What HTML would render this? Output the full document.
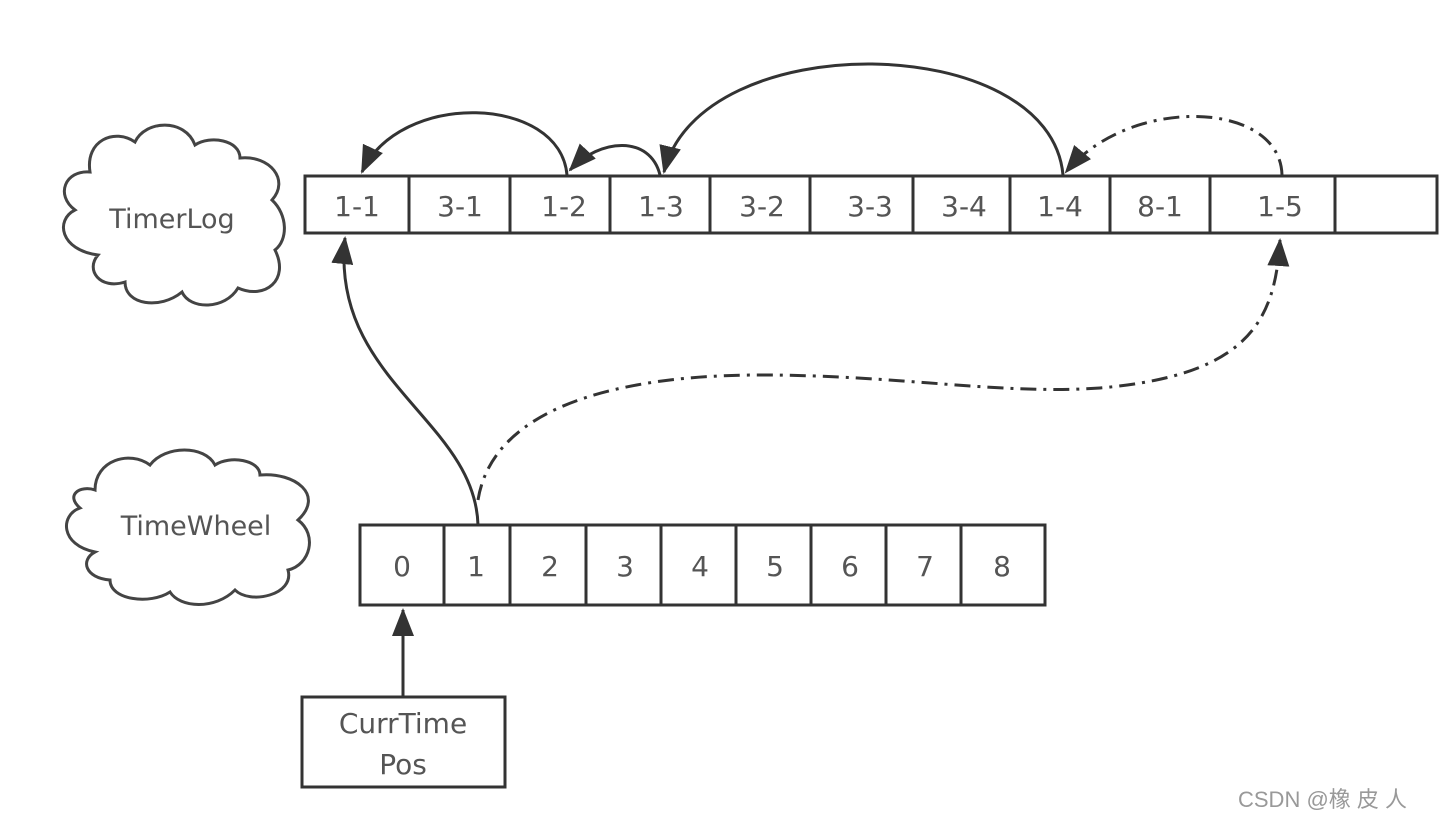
<!DOCTYPE html>
<html><head><meta charset="utf-8"><style>
html,body{margin:0;padding:0;background:#fff;}
svg{display:block;}
text{font-family:"DejaVu Sans","Liberation Sans",sans-serif;fill:#555;}
</style></head><body>
<svg width="1452" height="826" viewBox="0 0 1452 826" xmlns="http://www.w3.org/2000/svg">
<defs>
<marker id="ah" markerWidth="10" markerHeight="10" refX="9" refY="5" orient="auto" markerUnits="userSpaceOnUse" viewBox="0 0 10 10">
<path d="M0,0 L10,5 L0,10 Z" fill="#333"/>
</marker>
<marker id="ab" markerWidth="28" markerHeight="22" refX="26" refY="11" orient="auto" markerUnits="userSpaceOnUse" viewBox="0 0 28 22">
<path d="M0,0 L28,11 L0,22 Z" fill="#333"/>
</marker>
</defs>
<g fill="none" stroke="#444" stroke-width="3">
<!-- clouds -->
<path d="M90 172 C 85 140, 115 128, 135 142 C 145 120, 185 118, 195 145 C 210 135, 240 140, 240 158 C 270 155, 290 180, 272 200 C 288 215, 288 240, 275 250 C 290 280, 265 300, 238 288 C 225 310, 190 310, 182 292 C 160 310, 125 305, 125 282 C 100 290, 85 270, 98 255 C 60 250, 55 220, 75 210 C 55 195, 65 170, 90 172 Z"/>
<path d="M95 490 C 95 460, 130 450, 150 465 C 165 445, 205 445, 215 465 C 230 455, 260 460, 260 475 C 295 472, 325 495, 298 520 C 318 535, 310 565, 288 570 C 295 595, 250 605, 235 590 C 215 610, 180 608, 170 592 C 150 605, 110 600, 110 580 C 85 578, 80 560, 95 552 C 60 545, 60 515, 80 508 C 65 495, 80 485, 95 490 Z"/>
</g>
<text x="172" y="228" font-size="27" text-anchor="middle">TimerLog</text>
<text x="196" y="535" font-size="27" text-anchor="middle">TimeWheel</text>

<!-- TimerLog row -->
<g fill="#fff" stroke="#333" stroke-width="3">
<rect x="305" y="176" width="1132" height="57"/>
</g>
<g stroke="#333" stroke-width="3">
<line x1="409" y1="176" x2="409" y2="233"/><line x1="510" y1="176" x2="510" y2="233"/>
<line x1="610" y1="176" x2="610" y2="233"/><line x1="710" y1="176" x2="710" y2="233"/>
<line x1="810" y1="176" x2="810" y2="233"/><line x1="913" y1="176" x2="913" y2="233"/>
<line x1="1010" y1="176" x2="1010" y2="233"/><line x1="1110" y1="176" x2="1110" y2="233"/>
<line x1="1210" y1="176" x2="1210" y2="233"/><line x1="1335" y1="176" x2="1335" y2="233"/>
</g>
<g font-size="28" text-anchor="middle">
<text x="357" y="216">1-1</text><text x="460" y="216">3-1</text><text x="564" y="216">1-2</text>
<text x="661" y="216">1-3</text><text x="762" y="216">3-2</text><text x="870" y="216">3-3</text>
<text x="964" y="216">3-4</text><text x="1060" y="216">1-4</text><text x="1160" y="216">8-1</text>
<text x="1280" y="216">1-5</text>
</g>

<!-- TimeWheel row -->
<rect x="360" y="525" width="685" height="80" fill="#fff" stroke="#333" stroke-width="3"/>
<g stroke="#333" stroke-width="3">
<line x1="444" y1="525" x2="444" y2="605"/><line x1="510" y1="525" x2="510" y2="605"/>
<line x1="586" y1="525" x2="586" y2="605"/><line x1="661" y1="525" x2="661" y2="605"/>
<line x1="736" y1="525" x2="736" y2="605"/><line x1="811" y1="525" x2="811" y2="605"/>
<line x1="886" y1="525" x2="886" y2="605"/><line x1="961" y1="525" x2="961" y2="605"/>
</g>
<g font-size="28" text-anchor="middle">
<text x="402" y="576">0</text><text x="476" y="576">1</text><text x="550" y="576">2</text>
<text x="625" y="576">3</text><text x="700" y="576">4</text><text x="775" y="576">5</text>
<text x="850" y="576">6</text><text x="925" y="576">7</text><text x="1002" y="576">8</text>
</g>

<!-- CurrTime box -->
<rect x="302" y="697" width="203" height="90" fill="#fff" stroke="#333" stroke-width="3"/>
<text x="403" y="733" font-size="28" text-anchor="middle">CurrTime</text>
<text x="403" y="774" font-size="28" text-anchor="middle">Pos</text>

<!-- arrows -->
<g fill="none" stroke="#333" stroke-width="3">
<path d="M403 697 L403 610" marker-end="url(#ab)"/>
<path d="M567 175 C 560 95, 400 90, 362 172" marker-end="url(#ab)"/>
<path d="M660 175 C 650 135, 600 138, 570 170" marker-end="url(#ab)"/>
<path d="M1063 175 C 1050 30, 700 25, 664 172" marker-end="url(#ab)"/>
<path d="M1282 175 C 1280 100, 1130 95, 1066 172" stroke-dasharray="16 7 3 7" marker-end="url(#ab)"/>
<path d="M478 525 C 475 420, 330 380, 345 238" marker-end="url(#ab)"/>
<path d="M478 500 C 495 395, 650 375, 760 375 C 900 375, 1000 395, 1100 388 C 1250 375, 1275 320, 1280 240" stroke-dasharray="16 7 3 7" marker-end="url(#ab)"/>
</g>

<text x="1238" y="807" font-size="22" style="fill:#999;font-family:'Liberation Sans','Noto Sans CJK SC',sans-serif">CSDN @橡 皮 人</text>
</svg>
</body></html>
